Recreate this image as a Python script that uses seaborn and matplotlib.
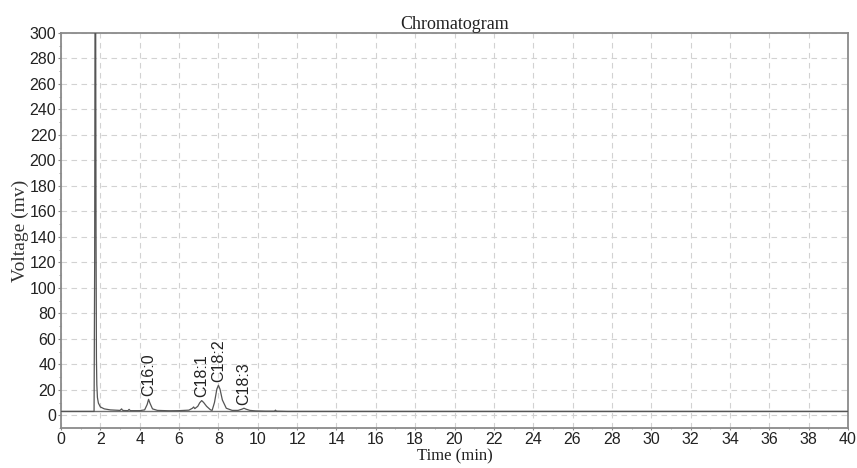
import matplotlib
matplotlib.use("Agg")
import matplotlib.pyplot as plt
from matplotlib.ticker import MultipleLocator
import seaborn as sns
import pandas as pd

# Detector trace sampled along retention time (min) and voltage (mV)
time_min = [0.0, 1.68, 1.71, 1.73, 1.76, 1.78, 1.80, 1.82, 1.85, 1.90, 2.00, 2.20,
            2.50, 3.00, 3.08, 3.12, 3.18, 3.40, 3.46, 3.52, 4.00, 4.25, 4.38,
            4.45, 4.52, 4.65, 4.90, 5.50, 6.00, 6.50, 6.68, 6.74, 6.80, 6.95,
            7.05, 7.15, 7.25, 7.40, 7.60, 7.68, 7.80, 7.92, 8.00, 8.08, 8.20,
            8.40, 8.70, 9.00, 9.20, 9.30, 9.40, 9.60, 9.90, 10.40, 10.85,
            10.90, 10.95, 11.50, 40.0]
voltage_mv = [3.0, 3.0, 120.0, 330.0, 330.0, 140.0, 45.0, 24.0, 14.0, 9.5, 6.5, 5.0,
              4.2, 3.8, 5.0, 4.0, 3.7, 3.6, 4.6, 3.6, 3.6, 4.2, 8.5,
              12.5, 9.5, 5.0, 3.8, 3.5, 3.6, 4.0, 5.5, 6.5, 5.2, 7.0,
              9.8, 11.5, 10.0, 7.0, 4.2, 3.8, 10.0, 20.5, 23.5, 20.5, 12.0,
              5.5, 3.8, 3.8, 4.8, 5.5, 4.8, 3.8, 3.4, 3.2, 3.2,
              4.0, 3.2, 3.0, 3.0]
baseline_mv = 3.0

# Identified fatty acid peaks: name, retention time, apex voltage
peak_names = ["C16:0", "C18:1", "C18:2", "C18:3"]
peak_times = [4.45, 7.15, 8.00, 9.30]
peak_heights = [12.5, 11.5, 23.5, 5.5]

x_ticks = list(range(0, 41, 2))
y_ticks = list(range(0, 301, 20))

sns.set_theme(style="white")
plt.rcParams["font.family"] = ["Liberation Sans", "DejaVu Sans"]

fig, ax = plt.subplots(figsize=(8.57, 4.68), dpi=100)
fig.subplots_adjust(left=0.0712, right=0.9895, top=0.9295, bottom=0.0855)

trace = pd.DataFrame({"time": time_min, "voltage": voltage_mv})
ax.axhline(baseline_mv, color="#707070", lw=1.0, zorder=2)
sns.lineplot(data=trace, x="time", y="voltage", ax=ax, color="#555555",
             lw=0.9, zorder=3)

for name, t, h in zip(peak_names, peak_times, peak_heights):
    ax.annotate(name, xy=(t, h), xytext=(0, 2.5), textcoords="offset points",
                rotation=90, ha="center", va="bottom", fontsize=11.5,
                color="#222222", family=["Liberation Sans", "DejaVu Sans"])

ax.set_xlim(0, 40)
ax.set_ylim(-10, 300)
ax.set_xticks(x_ticks)
ax.set_yticks(y_ticks)
ax.xaxis.set_minor_locator(MultipleLocator(1))
ax.yaxis.set_minor_locator(MultipleLocator(10))
ax.tick_params(axis="y", which="major", direction="out", length=2.5, width=0.8,
               color="#888888", labelsize=11.5, labelcolor="#222222", pad=1,
               left=True)
ax.tick_params(axis="y", which="minor", direction="out", length=1.5, width=0.6,
               color="#999999", left=True)
ax.tick_params(axis="x", which="major", direction="out", length=1.5, width=0.8,
               color="#888888", labelsize=11.5, labelcolor="#222222", pad=1.5,
               bottom=True)
ax.tick_params(axis="x", which="minor", direction="out", length=1, width=0.6,
               color="#999999", bottom=True)

ax.grid(True, which="major", linestyle=(0, (5, 4)), color="#d2d2d2", lw=0.8)
ax.set_axisbelow(True)

for side in ["left", "right", "top", "bottom"]:
    ax.spines[side].set_visible(True)
    ax.spines[side].set_color("#8a8a8a")
    ax.spines[side].set_linewidth(1.3)

serif = ["Liberation Serif", "DejaVu Serif"]
ax.set_title("Chromatogram", fontsize=13, family=serif, color="#222222", pad=3)
ax.set_xlabel("Time (min)", fontsize=12, family=serif, color="#222222", labelpad=1)
ax.set_ylabel("Voltage (mv)", fontsize=14, family=serif, color="#333333", labelpad=0)

fig.savefig("out.png", dpi=100, facecolor="white")
